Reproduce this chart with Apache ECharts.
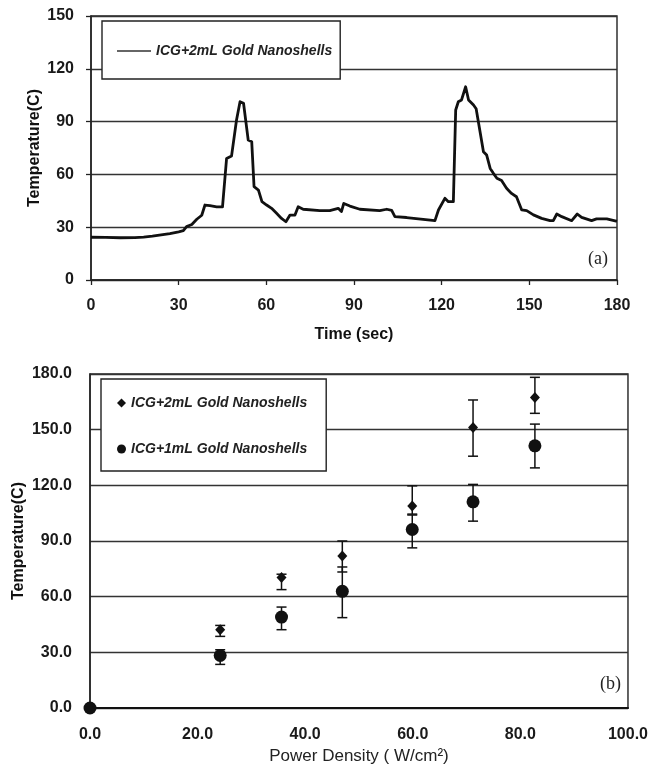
<!DOCTYPE html>
<html>
<head>
<meta charset="utf-8">
<script src="https://cdn.jsdelivr.net/npm/echarts@6/dist/echarts.min.js"></script>
<style>
html,body{margin:0;padding:0;background:#fff;}
#chart{width:651px;height:774px;}
</style>
</head>
<body>
<div id="chart"></div>
<script>
// ---- Panel (a): temperature vs time ----
var timeSec = [0,5,10,15,18,21,24,27,30,31.6,32.7,34.5,36.2,37.9,39,40.7,43,45,46.4,48.1,49.8,51,52.2,53.8,55,55.8,57.3,58.5,60.1,61.8,63.5,65.2,66.7,68.1,69.8,70.9,72.6,78.3,81.7,84.6,85.7,86.5,88.6,92,98.8,101.2,102.9,104,108,117.7,118.9,121.1,122.3,124,124.8,125.7,126.8,128.2,129.2,130.9,131.8,134.3,135.4,136.6,137.7,138.9,140.5,142.2,143.9,145.6,147.4,149.1,151.4,154.2,157.1,158.2,159.4,161.1,164.5,166.4,167.9,171.3,173,176.5,179.7,180];
var tempA =   [24.3,24.2,24,24.1,24.4,24.9,25.6,26.4,27.4,28,30.3,31.5,34.5,36.8,42.6,42.3,41.6,41.6,69.1,70.5,90.9,101.3,100.4,79.5,78.6,53,51.1,44.5,42.6,40.7,37.9,35,33.1,36.9,36.9,41.6,40.2,39.4,39.4,40.7,38.9,43.5,42,40.2,39.4,40.2,39.6,36,35.5,33.7,39.8,46.4,44.5,44.5,96.6,101.3,102.3,109.8,102.3,99.4,97.3,72.9,71,63.4,60.6,57.8,56.5,52.1,49.2,47.3,39.8,39.4,37,35,33.7,33.7,37.5,36,33.7,37.5,35.6,33.7,34.7,34.7,33.5,33.4];
var timeTicks = [0,30,60,90,120,150,180];

// ---- Panel (b): temperature vs power density ----
var powerDensity = [0, 24.2, 35.6, 46.9, 59.9, 71.2, 82.7];
var temp2mL      = [0, 42.2, 70.3, 81.9, 108.8, 151.2, 167.4];
var temp2mLLow   = [0, 38.6, 63.8, 73.3, 104.5, 135.7, 158.8];
var temp2mLHigh  = [0, 44.5, 72.1, 90.0, 119.7, 166.0, 178.2];
var temp1mL      = [0, 28.3, 49.0, 62.9, 96.2, 111.1, 141.3];
var temp1mLLow   = [0, 23.5, 42.2, 48.7, 86.3, 100.7, 129.4];
var temp1mLHigh  = [0, 31.4, 54.4, 76.0, 104.0, 120.5, 153.0];

var name2 = 'ICG+2mL Gold Nanoshells';
var name1 = 'ICG+1mL Gold Nanoshells';

function zip(a, b) { return a.map(function (v, i) { return [v, b[i]]; }); }
function zip3(a, b, c) { return a.map(function (v, i) { return [v, b[i], c[i]]; }); }

var SANS = "'Liberation Sans', Arial, sans-serif";
var INK = '#111';

function errRender(params, api) {
  var x = api.value(0), lo = api.value(1), hi = api.value(2);
  if (hi - lo <= 0) return null;
  var pHi = api.coord([x, hi]);
  var pLo = api.coord([x, lo]);
  var w = 5;
  var st = { stroke: INK, lineWidth: 1.5, fill: null };
  return {
    type: 'group',
    children: [
      { type: 'line', shape: { x1: pHi[0], y1: pHi[1], x2: pLo[0], y2: pLo[1] }, style: st },
      { type: 'line', shape: { x1: pHi[0] - w, y1: pHi[1], x2: pHi[0] + w, y2: pHi[1] }, style: st },
      { type: 'line', shape: { x1: pLo[0] - w, y1: pLo[1], x2: pLo[0] + w, y2: pLo[1] }, style: st }
    ]
  };
}

var chart = echarts.init(document.getElementById('chart'), null, { renderer: 'canvas' });

var legendText = { fontFamily: SANS, fontSize: 14, fontStyle: 'italic', fontWeight: 'bold', color: '#222' };
var tickText = { fontFamily: SANS, fontSize: 16, fontWeight: 'bold', color: '#1a1a1a' };

var option = {
  backgroundColor: '#fff',
  animation: false,
  textStyle: { fontFamily: SANS },
  grid: [
    { left: 91, top: 16, width: 526, height: 264, show: true, borderColor: '#222', borderWidth: 1.4, backgroundColor: 'transparent' },
    { left: 90, top: 374, width: 542, height: 334, show: true, borderColor: '#222', borderWidth: 1.4, backgroundColor: 'transparent' }
  ],
  legend: [
    {
      selectedMode: false,
      left: 102, top: 21,
      orient: 'vertical',
      padding: [23, 8, 21, 15],
      backgroundColor: '#fff',
      borderColor: '#222', borderWidth: 1.4,
      itemWidth: 34, itemHeight: 14,
      itemStyle: { color: '#333', borderWidth: 0 },
      textStyle: legendText,
      data: [{ name: name2, icon: 'path://M0,0H34V1.4H0Z' }]
    },
    {
      selectedMode: false,
      left: 101, top: 379,
      orient: 'vertical',
      padding: [17, 19, 15, 16],
      itemGap: 32,
      backgroundColor: '#fff',
      borderColor: '#222', borderWidth: 1.4,
      itemWidth: 9, itemHeight: 9,
      itemStyle: { color: INK, borderWidth: 0 },
      textStyle: legendText,
      data: [{ name: name2, icon: 'diamond' }, { name: name1, icon: 'circle' }]
    }
  ],
  xAxis: [
    {
      gridIndex: 0, type: 'value', min: 0, max: 180, interval: 30,
      name: 'Time (sec)', nameLocation: 'middle', nameGap: 47, nameMoveOverlap: false,
      nameTextStyle: { fontFamily: SANS, fontSize: 16, fontWeight: 'bold', color: INK },
      axisLine: { lineStyle: { color: '#222', width: 1.5 } },
      axisTick: { show: true, inside: false, length: 5, lineStyle: { color: '#222', width: 1.3 } },
      axisLabel: Object.assign({ margin: 18 }, tickText),
      splitLine: { show: false }
    },
    {
      gridIndex: 1, type: 'value', min: 0, max: 100, interval: 20,
      name: 'Power Density ( W/cm\u00B2)', nameLocation: 'middle', nameGap: 40, nameMoveOverlap: false,
      nameTextStyle: { fontFamily: SANS, fontSize: 17, color: '#222' },
      axisLine: { lineStyle: { color: '#111', width: 2 } },
      axisTick: { show: false },
      axisLabel: Object.assign({ margin: 19, formatter: function (v) { return v.toFixed(1); } }, tickText),
      splitLine: { show: false }
    }
  ],
  yAxis: [
    {
      gridIndex: 0, type: 'value', min: 0, max: 150, interval: 30,
      name: 'Temperature(C)', nameLocation: 'middle', nameGap: 48, nameRotate: 90, nameMoveOverlap: false,
      nameTextStyle: { fontFamily: SANS, fontSize: 16, fontWeight: 'bold', color: INK },
      axisLine: { show: true, lineStyle: { color: '#222', width: 1.5 } },
      axisTick: { show: true, inside: false, length: 5, lineStyle: { color: '#222', width: 1.3 } },
      axisLabel: Object.assign({ margin: 17 }, tickText),
      splitLine: { show: true, lineStyle: { color: '#333', width: 1.4 } }
    },
    {
      gridIndex: 1, type: 'value', min: 0, max: 180, interval: 30,
      name: 'Temperature(C)', nameLocation: 'middle', nameGap: 63, nameRotate: 90, nameMoveOverlap: false,
      nameTextStyle: { fontFamily: SANS, fontSize: 16, fontWeight: 'bold', color: INK },
      axisLine: { show: true, lineStyle: { color: '#222', width: 1.5 } },
      axisTick: { show: false },
      axisLabel: Object.assign({ margin: 18, formatter: function (v) { return v.toFixed(1); } }, tickText),
      splitLine: { show: true, lineStyle: { color: '#333', width: 1.4 } }
    }
  ],
  graphic: [
    { type: 'text', left: 588, top: 250, style: { text: '(a)', font: "18px 'Liberation Serif', 'Times New Roman', serif", fill: '#222' }, z: 100 },
    { type: 'text', left: 600, top: 675, style: { text: '(b)', font: "18px 'Liberation Serif', 'Times New Roman', serif", fill: '#222' }, z: 100 }
  ],
  series: [
    {
      name: name2, type: 'line', xAxisIndex: 0, yAxisIndex: 0,
      data: zip(timeSec, tempA), showSymbol: false, symbol: 'none',
      itemStyle: { color: INK },
      lineStyle: { color: INK, width: 2.8, join: 'round' }
    },
    {
      name: 'err2', type: 'custom', xAxisIndex: 1, yAxisIndex: 1,
      renderItem: errRender, data: zip3(powerDensity, temp2mLLow, temp2mLHigh), z: 3, silent: true
    },
    {
      name: 'err1', type: 'custom', xAxisIndex: 1, yAxisIndex: 1,
      renderItem: errRender, data: zip3(powerDensity, temp1mLLow, temp1mLHigh), z: 3, silent: true
    },
    {
      name: name2, type: 'scatter', xAxisIndex: 1, yAxisIndex: 1,
      data: zip(powerDensity, temp2mL), symbol: 'diamond', symbolSize: [10, 11],
      itemStyle: { color: INK, opacity: 1 }, z: 4
    },
    {
      name: name1, type: 'scatter', xAxisIndex: 1, yAxisIndex: 1,
      data: zip(powerDensity, temp1mL), symbol: 'circle', symbolSize: 13,
      itemStyle: { color: INK, opacity: 1 }, z: 4
    }
  ]
};
chart.setOption(option);
</script>
</body>
</html>
